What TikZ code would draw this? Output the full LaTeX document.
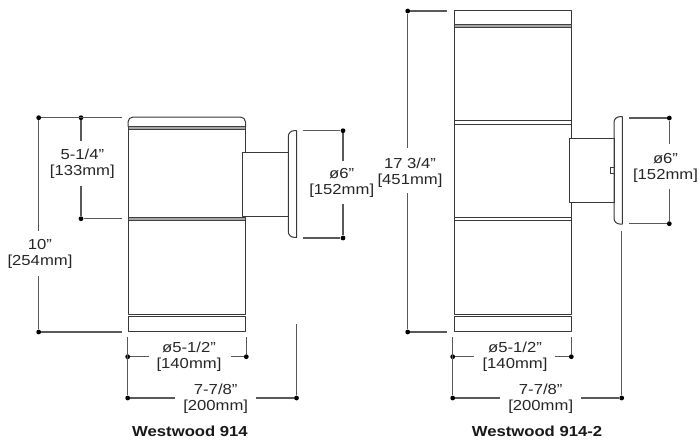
\documentclass[tikz,border=0pt]{standalone}
\usepackage{fontspec}
\setmainfont[FakeStretch=1.15]{Liberation Sans}
\tikzset{
  body/.style={draw=black!78,line width=1pt,line join=round},
  band/.style={draw=black!75,fill=black!35,line width=0.9pt},
  dimline/.style={draw=black!65,line width=1.1pt},
  dotnode/.style={circle,fill=black,inner sep=0pt,minimum size=4.8pt},
  dimtext/.style={font=\fontsize{14.5}{16}\selectfont,align=center,inner sep=0pt,text=black!85},
  titletext/.style={font=\bfseries\fontsize{14.5}{16}\selectfont,inner sep=0pt,text=black!90}
}
\begin{document}
\begin{tikzpicture}[x=1pt,y=-1pt]
\useasboundingbox (0,0) rectangle (700,440);
% ---------- left fixture
\draw[body,rounded corners=5pt] (128,126.5) -- (128,117) -- (245.5,117) -- (245.5,126.5);
\draw[band] (128,126.8) rectangle (245.5,129.3);
\draw[body] (128,129.3) -- (128,217.3) (245.5,129.3) -- (245.5,152);
\draw[band] (128,217.3) rectangle (245.5,220);
\draw[body] (128,220) -- (128,314.3) -- (245.5,314.3) -- (245.5,220);
\draw[body] (128,316.2) rectangle (245.5,331);
\draw[body] (242.7,152.3) rectangle (288.3,216.7);
\draw[body] (296.7,130.7) [rounded corners=5.7pt] -- (288.3,130.7) -- (288.3,237.3) [sharp corners] -- (296.7,237.3) -- cycle;
% left dims
\node[dotnode] (a1) at (38.7,117.7) {};
\node[dotnode] (a2) at (38.7,332) {};
\node[dotnode] (a3) at (81,117.7) {};
\node[dotnode] (a4) at (81,218.7) {};
\coordinate (a5) at (122,117.7);
\coordinate (a6) at (122,332);
\coordinate (a7) at (122,218.7);
\node[dimtext] (t1) at (82.3,164) {5-1/4"\\{}[133mm]};
\node[dimtext] (t2) at (40,253.5) {10"\\{}[254mm]};
\draw[dimline] (a1) -- (a5) (a2) -- (a6) (a4) -- (a7);
\draw[dimline] (a1) -- (38.7,231) (38.7,276) -- (a2);
\draw[dimline] (a3) -- (81,140.7) (81,186) -- (a4);
\node[dotnode] (b1) at (343,130.7) {};
\node[dotnode] (b2) at (343,238) {};
\coordinate (b3) at (302.7,130.7);
\coordinate (b4) at (302.7,238);
\node[dimtext] (t3) at (341.7,182.5) {ø6"\\{}[152mm]};
\draw[dimline] (b3) -- (b1) (b4) -- (b2) (b1) -- (343,160.7) (343,204.3) -- (b2);
\node[dotnode] (c1) at (127.7,356.7) {};
\node[dotnode] (c2) at (246.3,356.7) {};
\node[dotnode] (c3) at (127.7,398) {};
\node[dotnode] (c4) at (296.5,398) {};
\node[dimtext] (t4) at (189,357.2) {ø5-1/2"\\{}[140mm]};
\node[dimtext] (t5) at (215.7,399) {7-7/8"\\{}[200mm]};
\draw[dimline] (127.7,336.7) -- (c3) (246.3,336.7) -- (c2) (c1) -- (149,356.7) (230.7,356.7) -- (c2);
\draw[dimline] (c3) -- (175,398) (255.7,398) -- (c4) (296.5,324) -- (c4);
\node[titletext] (t6) at (190,431) {Westwood 914};
% ---------- right fixture
\draw[body] (454,10.7) rectangle (571.7,24.5);
\draw[band] (454,24.5) rectangle (571.7,27.3);
\draw[body] (454,27.3) -- (454,120.7) (571.7,27.3) -- (571.7,120.7);
\draw[body] (454,120.7) rectangle (571.7,124);
\draw[body] (454,124) -- (454,217.3) (571.7,124) -- (571.7,138.3) (571.7,202.7) -- (571.7,217.3);
\draw[body] (454,217.3) rectangle (571.7,220.3);
\draw[body] (454,220.3) -- (454,314.3) -- (571.7,314.3) -- (571.7,220.3);
\draw[body] (454,316.2) rectangle (571.7,331);
\draw[body] (569.3,138.3) rectangle (614,202.7);
\draw[body,line width=0.6pt] (610.7,167.7) rectangle (614,173);
\draw[body] (622.3,116.7) [rounded corners=5.7pt] -- (614,116.7) -- (614,224) [sharp corners] -- (622.3,224) -- cycle;
% right dims
\node[dotnode] (d1) at (407.7,11) {};
\node[dotnode] (d2) at (407.7,332) {};
\coordinate (d3) at (446.7,11);
\coordinate (d4) at (446.7,332);
\node[dimtext] (t7) at (410,172.5) {17 3/4"\\{}[451mm]};
\draw[dimline] (d1) -- (d3) (d2) -- (d4) (d1) -- (407.7,148.3) (407.7,193.3) -- (d2);
\node[dotnode] (e1) at (669.3,118) {};
\node[dotnode] (e2) at (669.3,223.7) {};
\coordinate (e3) at (629.3,118);
\coordinate (e4) at (629.3,223.7);
\node[dimtext] (t8) at (665.5,167.5) {ø6"\\{}[152mm]};
\draw[dimline] (e3) -- (e1) (e4) -- (e2) (e1) -- (669.3,144) (669.3,189.3) -- (e2);
\node[dotnode] (f1) at (452.7,356.7) {};
\node[dotnode] (f2) at (571.3,356.7) {};
\node[dotnode] (f3) at (452.7,398) {};
\node[dotnode] (f4) at (621.7,398) {};
\node[dimtext] (t9) at (515,357.2) {ø5-1/2"\\{}[140mm]};
\node[dimtext] (t10) at (540.7,399) {7-7/8"\\{}[200mm]};
\draw[dimline] (452.7,336.7) -- (f3) (571.3,336.7) -- (f2) (f1) -- (474,356.7) (555,356.7) -- (f2);
\draw[dimline] (f3) -- (500,398) (581,398) -- (f4) (621.7,231) -- (f4);
\node[titletext] (t11) at (537,431) {Westwood 914-2};
\end{tikzpicture}
\end{document}
